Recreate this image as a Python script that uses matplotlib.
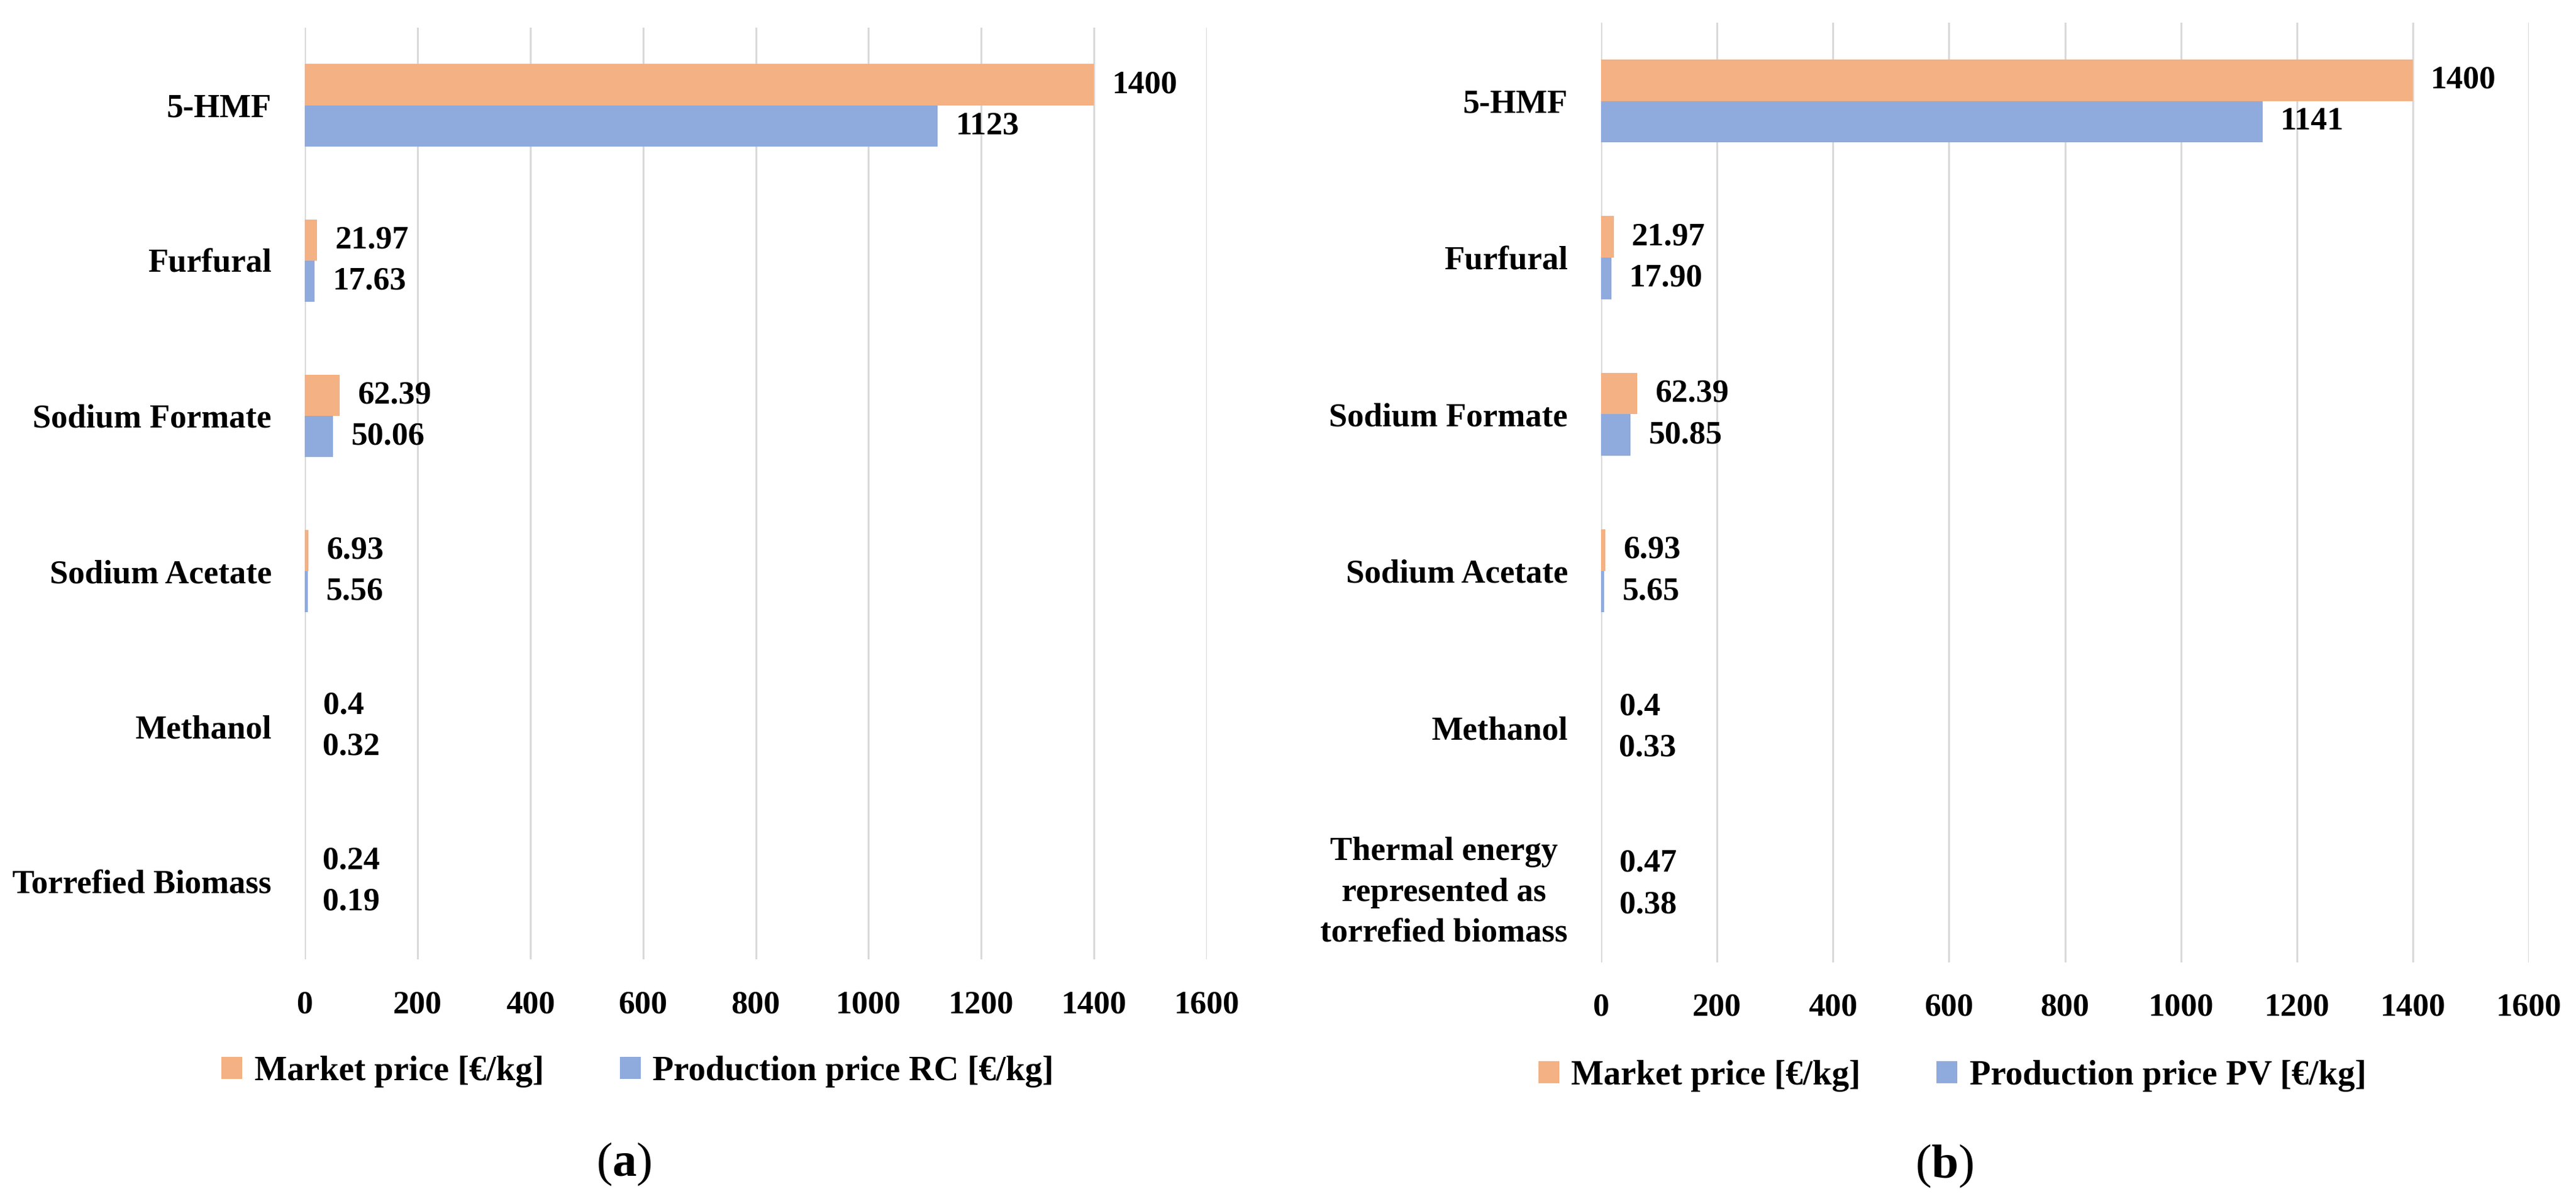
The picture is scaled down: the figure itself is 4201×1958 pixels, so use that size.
"""Market vs production price bars, panels (a) RC and (b) PV."""
import matplotlib
matplotlib.use("Agg")
import numpy as np
import matplotlib.pyplot as plt

plt.rcParams.update({
    "font.family": ["Liberation Serif", "DejaVu Serif"],
    "font.weight": "bold",
    "mathtext.fontset": "custom",
    "mathtext.rm": "Liberation Serif",
    "mathtext.bf": "Liberation Serif:bold",
})

ORANGE = "#F4B183"
BLUE = "#8FAADC"
GRID = "#D9D9D9"

# ── data ──────────────────────────────────────────────────────────────────────
cats_a = ["5-HMF", "Furfural", "Sodium Formate", "Sodium Acetate",
          "Methanol", "Torrefied Biomass"]
cats_b = ["5-HMF", "Furfural", "Sodium Formate", "Sodium Acetate",
          "Methanol", "Thermal energy\nrepresented as\ntorrefied biomass"]

market_a = ["1400", "21.97", "62.39", "6.93", "0.4", "0.24"]
prod_rc = ["1123", "17.63", "50.06", "5.56", "0.32", "0.19"]

market_b = ["1400", "21.97", "62.39", "6.93", "0.4", "0.47"]
prod_pv = ["1141", "17.90", "50.85", "5.65", "0.33", "0.38"]

x_ticks = [0, 200, 400, 600, 800, 1000, 1200, 1400, 1600]

W, H = 4201, 1958
DPI = 300
fig = plt.figure(figsize=(W / DPI, H / DPI), dpi=DPI)


def px_axes(x0, y0, x1, y1):
    return fig.add_axes([x0 / W, 1 - y1 / H, (x1 - x0) / W, (y1 - y0) / H])


def draw(ax, cats, top_txt, bot_txt, bot_name, leg_xy, cap, cap_xy):
    y = np.arange(len(cats))
    h = 0.265
    top = [float(v) for v in top_txt]
    bot = [float(v) for v in bot_txt]
    b1 = ax.barh(y - h / 2, top, height=h, color=ORANGE,
                 label="Market price [€/kg]", zorder=3)
    b2 = ax.barh(y + h / 2, bot, height=h, color=BLUE,
                 label=bot_name, zorder=3)
    ax.bar_label(b1, labels=top_txt, padding=7, fontsize=12.8, fontweight="bold")
    ax.bar_label(b2, labels=bot_txt, padding=7, fontsize=12.8, fontweight="bold")

    ax.set_xlim(0, 1600)
    ax.set_ylim(len(cats) - 0.5, -0.5)
    ax.set_xticks(x_ticks)
    ax.set_yticks(y)
    ax.set_yticklabels(cats, fontsize=13, fontweight="bold",
                       multialignment="center", linespacing=1.45)
    ax.tick_params(axis="x", length=0, labelsize=12.8, pad=12)
    ax.tick_params(axis="y", length=0, pad=13)
    for s in ax.spines.values():
        s.set_visible(False)
    ax.grid(axis="x", color=GRID, linewidth=0.75, zorder=0)
    ax.set_axisbelow(True)

    fig.legend(handles=[b1, b2], loc="center",
               bbox_to_anchor=(leg_xy[0] / W, 1 - leg_xy[1] / H),
               ncol=2, frameon=False, fontsize=13.5, handlelength=0.6,
               handleheight=0.6, handletextpad=0.35, columnspacing=2.2)
    fig.text(cap_xy[0] / W, 1 - cap_xy[1] / H, cap, fontsize=19,
             fontweight="normal", ha="center", va="center")


ax1 = px_axes(497, 45, 1968, 1564)
draw(ax1, cats_a, market_a, prod_rc, "Production price RC [€/kg]",
     (1040, 1747), r"($\mathbf{a}$)", (1017, 1898))

ax2 = px_axes(2611, 37, 4124, 1569)
draw(ax2, cats_b, market_b, prod_pv, "Production price PV [€/kg]",
     (3184, 1754), r"($\mathbf{b}$)", (3171, 1901))

fig.savefig("out.png", dpi=DPI)
plt.close(fig)
print("Saved out.png")
